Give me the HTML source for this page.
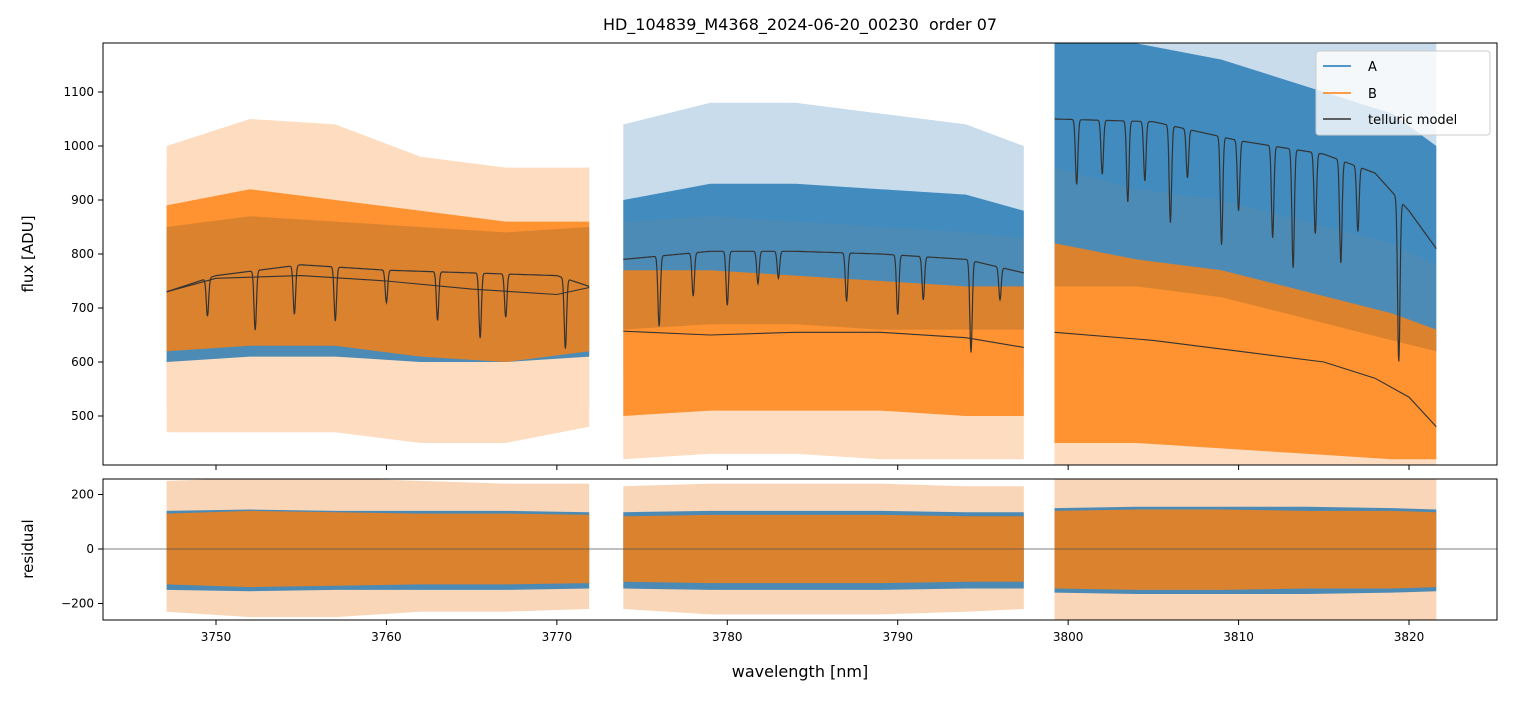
<!DOCTYPE html>
<html><head><meta charset="utf-8"><style>
body{margin:0;background:#fff;}
svg{font-family:"DejaVu Sans","Liberation Sans",sans-serif;}
</style></head><body>
<svg id="chart" width="1513" height="696" xmlns="http://www.w3.org/2000/svg">
<text x="800" y="30" font-size="16" text-anchor="middle" style="white-space:pre">HD_104839_M4368_2024-06-20_00230  order 07</text>
<defs>
<clipPath id="cTop"><rect x="103" y="43" width="1394" height="422"/></clipPath>
<clipPath id="cBot"><rect x="103" y="479" width="1394" height="141"/></clipPath>
</defs>
<g id="topPlot" clip-path="url(#cTop)"></g>
<g id="botPlot" clip-path="url(#cBot)"></g>
<rect x="103" y="43" width="1394" height="422" fill="none" stroke="#000" stroke-width="1"/>
<rect x="103" y="479" width="1394" height="141" fill="none" stroke="#000" stroke-width="1"/>
<g id="axes"></g>
<text transform="translate(33,254) rotate(-90)" font-size="15" text-anchor="middle">flux [ADU]</text>
<text transform="translate(33,549) rotate(-90)" font-size="15" text-anchor="middle">residual</text>
<text x="800" y="677" font-size="16" text-anchor="middle">wavelength [nm]</text>
<g>
<rect x="1316" y="51" width="174" height="84" rx="3" fill="#fff" fill-opacity="0.8" stroke="#ccc"/>
<line x1="1323" y1="66" x2="1351" y2="66" stroke="#1f77b4" stroke-width="1.5"/>
<text x="1368" y="71" font-size="13">A</text>
<line x1="1323" y1="93" x2="1351" y2="93" stroke="#ff7f0e" stroke-width="1.5"/>
<text x="1368" y="98" font-size="13">B</text>
<line x1="1323" y1="119" x2="1351" y2="119" stroke="#333" stroke-width="1.5"/>
<text x="1368" y="124" font-size="13">telluric model</text>
</g>
</svg>
<script>
const NS="http://www.w3.org/2000/svg";
// ---- data ----
const segNodes=[[3747.1,3752,3757,3762,3767,3771.9],[3773.9,3779,3784,3789,3794,3797.4],[3799.2,3804,3809,3814,3819,3821.6]];
const aHi=[[850,870,860,850,840,850],[900,930,930,920,910,880],[1190,1190,1160,1110,1060,1000]];
const aLo=[[600,610,610,600,600,610],[660,670,670,660,660,660],[740,740,720,680,640,620]];
const bHi=[[890,920,900,880,860,860],[770,770,760,750,740,740],[820,790,770,730,690,660]];
const bLo=[[620,630,630,610,600,620],[500,510,510,510,500,500],[450,450,440,430,420,420]];
const aSpikeHi=[[960,1000,1000,960,950,960],[1040,1080,1080,1060,1040,1000],[1190,1190,1190,1190,1190,1190]];
const aSpikeLo=[[520,520,520,500,490,520],[580,590,590,580,580,580],[620,600,580,540,480,460]];
const bSpikeHi=[[1000,1050,1040,980,960,960],[860,870,860,850,840,830],[960,920,900,860,820,780]];
const bSpikeLo=[[470,470,470,450,450,480],[420,430,430,420,420,420],[400,400,400,400,400,400]];
const contNodes=[[3747.1,3750,3755,3760,3765,3770,3771.9],[3773.9,3779,3784,3789,3794,3797.4],[3799.2,3805,3810,3815,3818,3820,3821.6]];
const contVals=[[730,760,780,770,765,760,740],[790,805,805,800,790,765],[1050,1045,1010,985,950,880,810]];
const dips=[[[3749.5,70],[3752.3,110],[3754.6,90],[3757,100],[3760,60],[3763,90],[3765.5,120],[3767,80],[3770.5,130]],
[[3776,130],[3778,80],[3780,100],[3781.8,60],[3783,50],[3787,90],[3790,110],[3791.5,80],[3794.3,170],[3796,60]],
[[3800.5,120],[3802,100],[3803.5,150],[3804.5,110],[3806,180],[3807,90],[3809,200],[3810,130],[3812,170],[3813.2,220],[3814.5,150],[3816,190],[3817,120],[3819.4,300]]];
const smoothVals=[[730,755,760,750,735,725,738],[657,650,655,655,645,627],[655,640,620,600,570,535,480]];
const resAHi=[[140,145,140,140,140,135],[135,140,140,140,135,135],[150,155,155,155,150,145]];
const resALo=[[-150,-155,-150,-150,-150,-145],[-145,-150,-150,-150,-145,-145],[-160,-165,-165,-165,-160,-155]];
const resBHi=[[130,140,135,130,130,125],[120,125,125,125,120,120],[140,145,145,140,140,135]];
const resBLo=[[-130,-140,-135,-130,-130,-125],[-120,-125,-125,-125,-120,-120],[-145,-150,-150,-145,-145,-140]];
const resSpikeHi=[[250,260,260,250,240,240],[230,240,240,240,230,230],[260,260,260,260,260,260]];
const resSpikeLo=[[-230,-250,-250,-230,-230,-220],[-220,-240,-240,-240,-230,-220],[-260,-260,-260,-260,-260,-260]];
const xTicks=[3750,3760,3770,3780,3790,3800,3810,3820];
const yTicks=[500,600,700,800,900,1000,1100];
const rTicks=[-200,0,200];
// ---- scales ----
const X=w=>216+(w-3750)*17.043;
const Y=v=>92+(1100-v)*0.54;
const R=v=>549-v*0.2725;
function interp(xs,ys,x){for(let i=0;i<xs.length-1;i++){if(x<=xs[i+1]){const t=(x-xs[i])/(xs[i+1]-xs[i]);return ys[i]+t*(ys[i+1]-ys[i]);}}return ys[ys.length-1];}
function band(g,xs,hi,lo,sc,col,op,name){
  let d="M"+xs.map((x,i)=>X(x).toFixed(1)+","+sc(hi[i]).toFixed(1)).join("L");
  for(let i=xs.length-1;i>=0;i--)d+="L"+X(xs[i]).toFixed(1)+","+sc(lo[i]).toFixed(1);
  const p=document.createElementNS(NS,"path");p.setAttribute("d",d+"Z");p.setAttribute("fill",col);p.setAttribute("fill-opacity",op);
  
  
  g.appendChild(p);
}
function line(g,d,col,w,name){const p=document.createElementNS(NS,"path");p.setAttribute("d",d);p.setAttribute("fill","none");p.setAttribute("stroke",col);p.setAttribute("stroke-width",w);
  
  
  g.appendChild(p);}
const topG=document.getElementById("topPlot"),botG=document.getElementById("botPlot");
for(let s=0;s<3;s++){
  const xs=segNodes[s];
  band(topG,xs,aSpikeHi[s],aSpikeLo[s],Y,"#c9dcec",1,"spectrum-a-spikes-seg"+(s+1));
  band(topG,xs,bSpikeHi[s],bSpikeLo[s],Y,"#fddcbf",1,"spectrum-b-spikes-seg"+(s+1));
  band(topG,xs,aHi[s],aLo[s],Y,"#1f77b4",0.8,"spectrum-a-seg"+(s+1));
  band(topG,xs,bHi[s],bLo[s],Y,"#ff7f0e",0.8,"spectrum-b-seg"+(s+1));
  band(botG,xs,resSpikeHi[s],resSpikeLo[s],R,"#f9d6b8",1,"residual-spikes-seg"+(s+1));
  band(botG,xs,resAHi[s],resALo[s],R,"#1f77b4",0.8,"residual-a-seg"+(s+1));
  band(botG,xs,resBHi[s],resBLo[s],R,"#ff7f0e",0.8,"residual-b-seg"+(s+1));
  const c=contNodes[s];let d="";
  for(let w=c[0];w<=c[c.length-1];w+=0.02){let v=interp(c,contVals[s],w);for(const[dc,dd]of dips[s])v-=dd*Math.exp(-Math.pow((w-dc)/0.1,2));d+=(d?"L":"M")+X(w).toFixed(1)+","+Y(v).toFixed(1);}
  line(topG,d,"#333",1.2,"telluric-model-seg"+(s+1));
  let d2="";c.forEach((w,i)=>{d2+=(i?"L":"M")+X(w).toFixed(1)+","+Y(smoothVals[s][i]).toFixed(1);});
  line(topG,d2,"#333",1.1,"continuum-b-seg"+(s+1));
}
line(botG,"M103,"+R(0)+"L1497,"+R(0),"#555",0.7,"zero-line");
const ax=document.getElementById("axes");
function txt(x,y,s,anchor,name){const t=document.createElementNS(NS,"text");t.setAttribute("x",x);t.setAttribute("y",y);t.setAttribute("font-size","12");t.setAttribute("text-anchor",anchor);t.textContent=s;
  
  
  ax.appendChild(t);}
xTicks.forEach(v=>{const x=X(v);line(ax,`M${x},465L${x},470M${x},620L${x},625`,"#000",1,"x-tick");txt(x,641,v,"middle","x-tick-label");});
yTicks.forEach(v=>{const y=Y(v);line(ax,`M98,${y}L103,${y}`,"#000",1,"y-tick");txt(94,y+4,v,"end","y-tick-label");});
rTicks.forEach(v=>{const y=R(v);line(ax,`M98,${y}L103,${y}`,"#000",1,"residual-tick");txt(94,y+4,v===0?"0":(v<0?"\u2212"+(-v):v),"end","residual-tick-label");});
</script>
</body></html>
